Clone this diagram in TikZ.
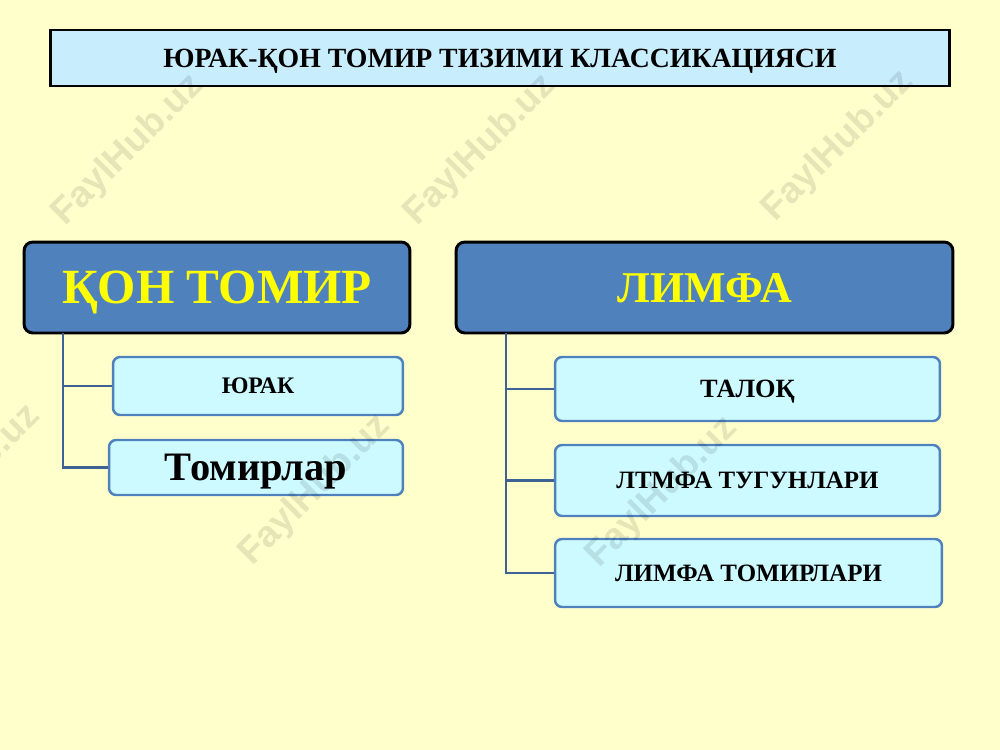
\documentclass[tikz,border=0pt]{standalone}
\usepackage{fontspec}
\setmainfont{Liberation Serif}
\setsansfont{Liberation Sans}
\begin{document}
\begin{tikzpicture}[x=0.02cm,y=-0.02cm,
  titlebox/.style={draw=black,line width=1.7pt,fill=titlecyan,inner sep=0pt,text depth=0pt,font=\bfseries\fontsize{15.8}{17}\selectfont},
  headbox/.style={draw=black,line width=1.7pt,fill=headblue,rounded corners=5pt,inner sep=0pt,text depth=0pt,text=yellow,font=\bfseries},
  childbox/.style={draw=childborder,line width=1.4pt,fill=childcyan,rounded corners=4pt,inner sep=0pt,text depth=0pt,font=\bfseries},
  conn/.style={draw=connblue,line width=1.6pt},
  wmark/.style={text=black,text opacity=0.1,font=\sffamily\bfseries\fontsize{21}{22}\selectfont,rotate=45}
]
\definecolor{bgyellow}{HTML}{FFFFCC}
\definecolor{titlecyan}{HTML}{C8EEFD}
\definecolor{headblue}{HTML}{4F81BD}
\definecolor{childcyan}{HTML}{CCFAFF}
\definecolor{childborder}{HTML}{4F81BD}
\definecolor{connblue}{HTML}{3F6294}
\definecolor{yellow}{HTML}{FFFF00}
\useasboundingbox (0,0) rectangle (1000,750);
\fill[bgyellow] (0,0) rectangle (1000,750);

\node[titlebox,minimum width=18cm,minimum height=1.12cm] (title) at (500,58) {ЮРАК-ҚОН ТОМИР ТИЗИМИ КЛАССИКАЦИЯСИ};

\node[headbox,minimum width=7.72cm,minimum height=1.82cm,font=\bfseries\fontsize{28}{30}\selectfont] (blood) at (217,287.5) {ҚОН ТОМИР};
\node[headbox,minimum width=9.94cm,minimum height=1.82cm,font=\bfseries\fontsize{25}{27}\selectfont] (lymph) at (704.5,287.5) {ЛИМФА};

\node[childbox,minimum width=5.8cm,minimum height=1.16cm,font=\bfseries\fontsize{13.5}{15}\selectfont] (heart) at (258,386) {ЮРАК};
\node[childbox,minimum width=5.88cm,minimum height=1.1cm,font=\bfseries\fontsize{23}{25}\selectfont] (vessels) at (256,467.5) {Томирлар};

\node[childbox,minimum width=7.7cm,minimum height=1.28cm,font=\bfseries\fontsize{15}{17}\selectfont] (spleen) at (747.5,389) {ТАЛОҚ};
\node[childbox,minimum width=7.7cm,minimum height=1.42cm,font=\bfseries\fontsize{14.2}{16}\selectfont] (nodes) at (747.5,480.5) {ЛТМФА ТУГУНЛАРИ};
\node[childbox,minimum width=7.74cm,minimum height=1.36cm,font=\bfseries\fontsize{14.2}{16}\selectfont] (lvessels) at (748.5,573) {ЛИМФА ТОМИРЛАРИ};

\coordinate (ltop) at (63,333);
\coordinate (rtop) at (506,333);
\draw[conn] (ltop) |- (heart.west);
\draw[conn] (ltop) |- (vessels.west);
\draw[conn] (rtop) |- (spleen.west);
\draw[conn] (rtop) |- (nodes.west);
\draw[conn] (rtop) |- (lvessels.west);

\node[wmark] (w1) at (128,150) {FaylHub.uz};
\node[wmark] (w2) at (480,150) {FaylHub.uz};
\node[wmark] (w3) at (838,146) {FaylHub.uz};
\node[wmark] (w4) at (-35,480) {FaylHub.uz};
\node[wmark] (w5) at (315,490) {FaylHub.uz};
\node[wmark] (w6) at (662,492) {FaylHub.uz};
\end{tikzpicture}
\end{document}
